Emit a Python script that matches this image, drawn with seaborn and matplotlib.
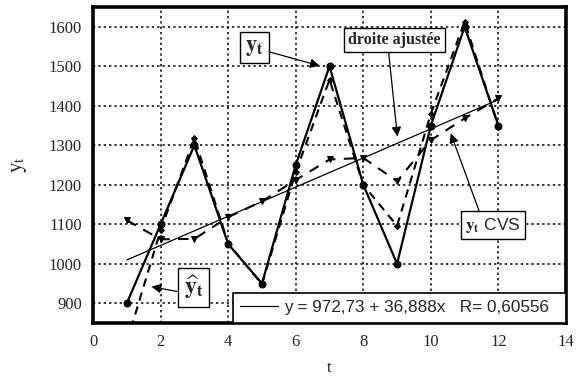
import numpy as np
import pandas as pd
import matplotlib
matplotlib.use("Agg")
import matplotlib.pyplot as plt
import seaborn as sns

# Quarterly series, its seasonally adjusted version (CVS) and the fitted values
t = [1, 2, 3, 4, 5, 6, 7, 8, 9, 10, 11, 12]
y_obs = [900, 1100, 1300, 1050, 950, 1250, 1500, 1200, 1000, 1350, 1600, 1350]
y_cvs = [1110, 1062, 1063, 1118, 1158, 1212, 1264, 1268, 1209, 1313, 1368, 1419]
y_hat = [801, 1085, 1318, 1052, 948, 1232, 1466, 1200, 1096, 1380, 1613, 1347]

# Least-squares trend on the CVS series
intercept = 972.73
slope = 36.888
r_coef = 0.60556

x_ticks = [0, 2, 4, 6, 8, 10, 12, 14]
y_ticks = [900, 1000, 1100, 1200, 1300, 1400, 1500, 1600]

sns.set_style("white")
plt.rcParams["font.family"] = ["Liberation Serif", "DejaVu Serif"]
plt.rcParams["mathtext.fontset"] = "stix"

fig = plt.figure(figsize=(5.76, 3.77), dpi=100)
ax = fig.add_axes([0.1615, 0.1432, 0.8211, 0.8382])

df = pd.DataFrame({"t": t, "y": y_obs, "cvs": y_cvs, "hat": y_hat})

# dotted grid behind everything
for xv in x_ticks[1:-1]:
    ax.axvline(xv, color="black", lw=1.1, ls=(0, (1.5, 2.0)), zorder=0)
for yv in y_ticks:
    ax.axhline(yv, color="black", lw=1.1, ls=(0, (1.5, 2.0)), zorder=0)

# fitted trend line over the observed range
t_line = np.array([t[0], t[-1]], dtype=float)
trend = pd.DataFrame({"t": t_line, "v": intercept + slope * t_line})
sns.lineplot(data=trend, x="t", y="v", ax=ax, color="black", lw=0.9,
             label="y = 972,73 + 36,888x   R= 0,60556  ", zorder=3)

sns.lineplot(data=df, x="t", y="cvs", ax=ax, color="black", lw=1.5,
             ls=(0, (5, 4)), marker="v", markersize=5, markeredgecolor="black",
             zorder=4, legend=False)
sns.lineplot(data=df, x="t", y="hat", ax=ax, color="black", lw=1.5,
             ls=(0, (4, 3)), marker="D", markersize=3, markeredgecolor="black",
             zorder=4, legend=False)
sns.lineplot(data=df, x="t", y="y", ax=ax, color="black", lw=1.6,
             marker="o", markersize=5, markeredgecolor="black",
             zorder=5, legend=False)

ax.set_xlim(0, 14)
ax.set_ylim(850, 1650)
ax.set_xticks(x_ticks)
ax.set_yticks(y_ticks)
ax.tick_params(axis="both", labelsize=12, length=0, pad=8)
ax.set_xlabel("t", fontsize=12, labelpad=7)
ax.set_ylabel(r"$\mathrm{y}_\mathrm{t}$", fontsize=15, labelpad=14)
for sp in ax.spines.values():
    sp.set_linewidth(2.6)
    sp.set_color("black")
    sp.set_visible(True)

leg = ax.legend(loc="lower right", bbox_to_anchor=(1.0, 0.0), borderaxespad=0,
                frameon=True, fancybox=False, framealpha=1, edgecolor="black",
                prop={"family": "Liberation Sans", "size": 12.3},
                handlelength=2.2, handletextpad=0.35, borderpad=0.45)
leg.get_frame().set_linewidth(1.2)
leg.set_zorder(10)

box = dict(boxstyle="square,pad=0.25", fc="white", ec="black", lw=1.0)
arrow = dict(arrowstyle="-|>", color="black", lw=0.9, mutation_scale=14,
             shrinkA=0, shrinkB=0)

ax.annotate(r"$\mathbf{y_t}$", xy=(6.71, 1501), xytext=(4.78, 1547),
            ha="center", va="center", fontsize=16, bbox=box,
            arrowprops=dict(arrow, relpos=(1.0, 0.37)), zorder=8)
ax.annotate("droite ajustée", xy=(9.01, 1322), xytext=(8.93, 1566),
            ha="center", va="center", fontsize=11.5, fontweight="bold",
            bbox=box, arrowprops=dict(arrow, relpos=(0.43, 0.0)), zorder=8)
ax.annotate(r"$\mathbf{y_t}$ CVS", xy=(10.59, 1330), xytext=(11.84, 1098),
            ha="center", va="center", fontsize=12.5, family="Liberation Sans",
            bbox=box, arrowprops=dict(arrow, relpos=(0.28, 1.0)), zorder=8)
ax.annotate(r"$\mathbf{\widehat{y}_t}$", xy=(1.73, 942), xytext=(2.97, 940),
            ha="center", va="center", fontsize=17, bbox=box,
            arrowprops=dict(arrow, relpos=(0.0, 0.31)), zorder=8)

fig.savefig("out.png", dpi=100)
